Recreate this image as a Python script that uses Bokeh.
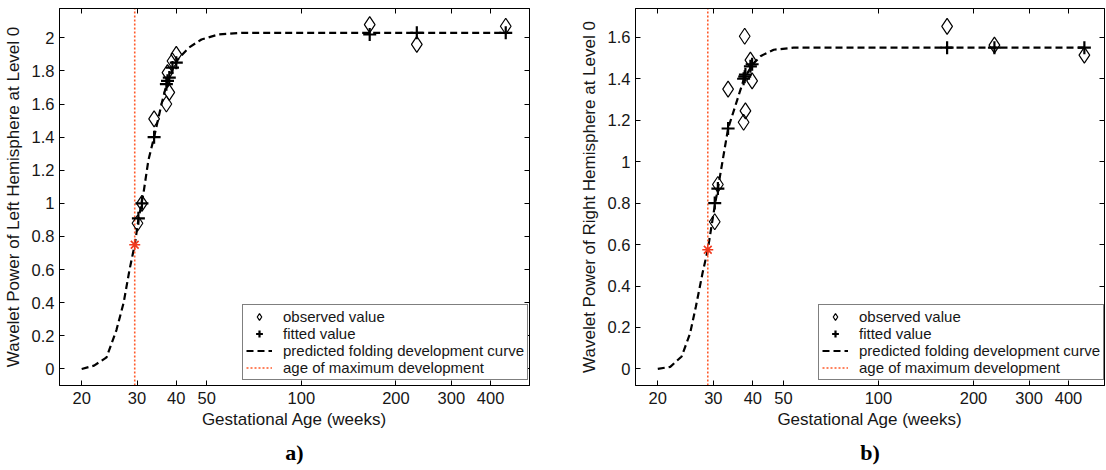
from bokeh.plotting import figure
from bokeh.models import (LinearAxis, FixedTicker, CustomJSTickFormatter, Legend,
                          LegendItem, Title)
from bokeh.layouts import row
from bokeh.embed import file_html
from bokeh.resources import INLINE

# ---------------- data ----------------
x_ticks = [20, 30, 40, 50, 100, 200, 300, 400]
y_ticks_L = [0, 0.2, 0.4, 0.6, 0.8, 1, 1.2, 1.4, 1.6, 1.8, 2]
y_ticks_R = [0, 0.2, 0.4, 0.6, 0.8, 1, 1.2, 1.4, 1.6]

# left hemisphere (panel a)
obs_age_L = [30.1, 31.1, 34.0, 37.2, 38.0, 37.5, 38.9, 40.0, 165, 233, 447]
obs_val_L = [0.88, 1.00, 1.51, 1.60, 1.67, 1.79, 1.86, 1.90, 2.08, 1.96, 2.07]
fit_age_L = [30.3, 31.1, 34.0, 37.2, 38.0, 37.5, 38.9, 40.0, 165, 233, 447]
fit_val_L = [0.91, 1.00, 1.40, 1.72, 1.76, 1.74, 1.82, 1.85, 2.02, 2.03, 2.03]
curve_age_L = [20, 21.9, 24.0, 25.8, 27.2, 28.4, 29.5, 30.3, 31.5, 32.6, 34.0,
               35.9, 37.5, 40.0, 43.8, 48.1, 54.5, 64.8, 100, 200, 450]
curve_val_L = [0.0, 0.02, 0.07, 0.235, 0.40, 0.60, 0.75, 0.90, 1.07, 1.26, 1.40,
               1.60, 1.74, 1.86, 1.94, 1.99, 2.02, 2.03, 2.03, 2.03, 2.03]
peak_age_L = 29.5
peak_val_L = 0.75

# right hemisphere (panel b)
obs_age_R = [30.3, 31.0, 33.4, 37.7, 39.3, 39.8, 37.9, 37.4, 165, 233, 449]
obs_val_R = [0.71, 0.89, 1.35, 1.605, 1.49, 1.39, 1.245, 1.19, 1.653, 1.562, 1.514]
fit_age_R = [30.3, 31.0, 33.4, 37.7, 39.3, 39.8, 37.9, 37.4, 165, 233, 449]
fit_val_R = [0.80, 0.87, 1.16, 1.41, 1.46, 1.47, 1.42, 1.40, 1.55, 1.55, 1.55]
curve_age_R = [20, 21.9, 23.8, 25.3, 26.4, 27.7, 28.8, 30.4, 31.0, 33.4, 37.5,
               40.0, 42.4, 46.6, 53.9, 70, 100, 200, 450]
curve_val_R = [0.0, 0.01, 0.06, 0.17, 0.30, 0.46, 0.575, 0.80, 0.87, 1.16, 1.40,
               1.47, 1.51, 1.54, 1.55, 1.55, 1.55, 1.55, 1.55]
peak_age_R = 28.8
peak_val_R = 0.575

FONT = "Liberation Sans"
TXT = "#161616"
DOT = "#ff5a2a"
STAR = "#f03a1e"


def panel(width, x_range, y_range, yticks, ylabel, obs_a, obs_v, fit_a, fit_v,
          c_a, c_v, pk_a, pk_v, tag, mb_left, mb_right, mb_top):
    p = figure(width=width, height=470, x_axis_type="log",
               x_range=x_range, y_range=y_range,
               output_backend="svg", toolbar_location=None,
               min_border_left=mb_left, min_border_right=mb_right,
               min_border_top=mb_top, min_border_bottom=84)
    p.grid.visible = False
    p.outline_line_color = "black"
    p.outline_line_width = 1
    p.background_fill_color = "white"
    p.border_fill_color = "white"

    # main axes
    xa = p.xaxis[0]
    xa.ticker = FixedTicker(ticks=x_ticks, minor_ticks=[])
    xa.formatter = CustomJSTickFormatter(code="return String(tick);")
    ya = p.yaxis[0]
    ya.ticker = FixedTicker(ticks=yticks, minor_ticks=[])
    ya.formatter = CustomJSTickFormatter(code="return String(tick);")
    for ax in (xa, ya):
        ax.major_tick_in = 5
        ax.major_tick_out = 0
        ax.minor_tick_in = 0
        ax.minor_tick_out = 0
        ax.axis_line_color = "black"
        ax.major_tick_line_color = "black"
        ax.major_label_text_font = FONT
        ax.major_label_text_font_size = "16.5px"
        ax.major_label_text_color = TXT
        ax.axis_label_text_font = FONT
        ax.axis_label_text_font_size = "17px"
        ax.axis_label_text_font_style = "normal"
        ax.axis_label_text_color = TXT
    xa.axis_label = "Gestational Age (weeks)"
    xa.major_label_standoff = 6
    xa.axis_label_standoff = 3
    ya.axis_label = ylabel
    ya.major_label_standoff = 5
    ya.axis_label_standoff = 6

    # mirrored tick axes on top and right
    top = LinearAxis(ticker=FixedTicker(ticks=x_ticks, minor_ticks=[]),
                     formatter=CustomJSTickFormatter(code="return '';"))
    right = LinearAxis(ticker=FixedTicker(ticks=yticks, minor_ticks=[]),
                       formatter=CustomJSTickFormatter(code="return '';"))
    for ax in (top, right):
        ax.major_tick_in = 5
        ax.major_tick_out = 0
        ax.minor_tick_in = 0
        ax.minor_tick_out = 0
        ax.major_label_standoff = 0
        ax.major_label_text_font_size = "0px"
        ax.axis_line_color = "black"
    p.add_layout(top, "above")
    p.add_layout(right, "right")

    # glyphs
    r_curve = p.line(c_a, c_v, line_color="black", line_width=2.2, line_dash="7 4")
    r_peak = p.line([pk_a, pk_a], [y_range[0], y_range[1]], line_color=DOT,
                    line_width=1.6, line_dash="2 2")
    r_obs = p.scatter(obs_a, obs_v, marker="diamond", size=16, fill_color=None,
                      line_color="black", line_width=1.2)
    r_fit = p.scatter(fit_a, fit_v, marker="cross", size=13, line_color="black",
                      line_width=2.2)
    p.scatter([pk_a], [pk_v], marker="asterisk", size=11, line_color=STAR,
              line_width=1.6)

    legend = Legend(items=[
        LegendItem(label="observed value", renderers=[r_obs]),
        LegendItem(label="fitted value", renderers=[r_fit]),
        LegendItem(label="predicted folding development curve", renderers=[r_curve]),
        LegendItem(label="age of maximum development", renderers=[r_peak]),
    ], location=(183, 5))
    legend.margin = 0
    legend.padding = 3
    legend.spacing = 0
    legend.glyph_width = 26
    legend.glyph_height = 17
    legend.label_height = 17
    legend.label_standoff = 11
    legend.label_text_font = FONT
    legend.label_text_font_size = "15px"
    legend.label_text_color = TXT
    legend.border_line_color = "black"
    legend.border_line_width = 1
    legend.background_fill_color = "white"
    legend.background_fill_alpha = 1
    p.add_layout(legend, "center")

    p.add_layout(Title(text=tag, align="center", text_font="Liberation Serif",
                       text_font_style="bold", text_font_size="22px",
                       text_color="black", standoff=12), "below")
    return p


pa = panel(560, (17.0, 532.0), (-0.1, 2.177), y_ticks_L,
           "Wavelet Power of Left Hemisphere at Level 0",
           obs_age_L, obs_val_L, fit_age_L, fit_val_L, curve_age_L, curve_val_L,
           peak_age_L, peak_val_L, "a)", 58, 31, 8)
pb = panel(546, (17.0, 520.0), (-0.08, 1.739), y_ticks_R,
           "Wavelet Power of Right Hemisphere at Level 0",
           obs_age_R, obs_val_R, fit_age_R, fit_val_R, curve_age_R, curve_val_R,
           peak_age_R, peak_val_R, "b)", 75, 2, 6)

layout = row(pa, pb)
open("out.html", "w").write(file_html(layout, INLINE))
